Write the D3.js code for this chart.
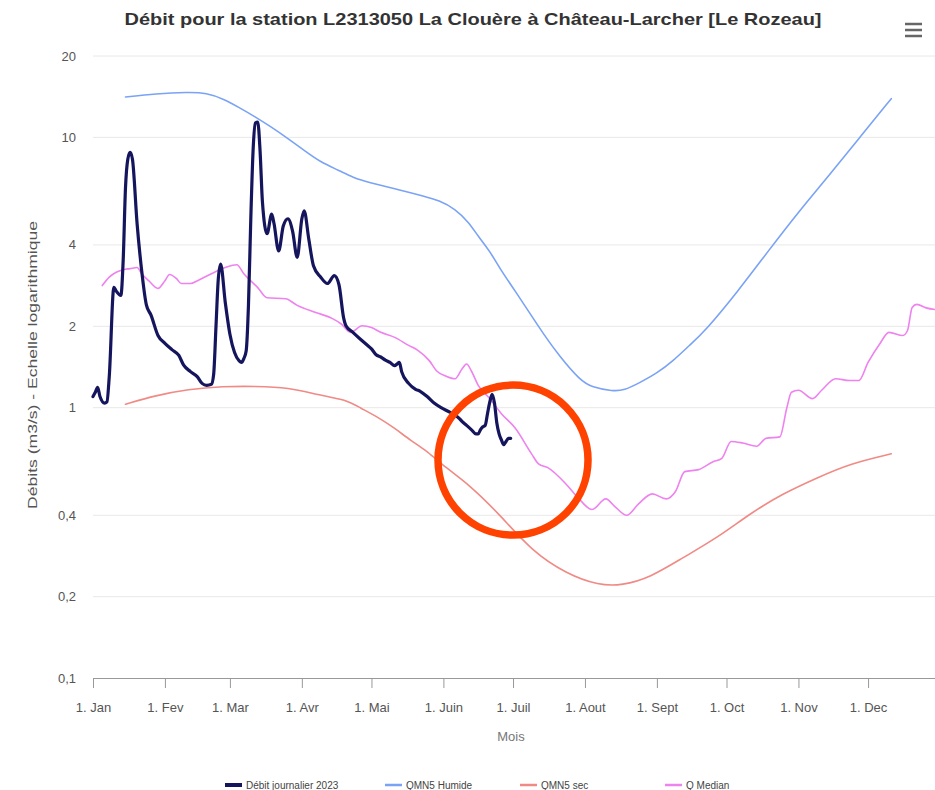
<!DOCTYPE html>
<html><head><meta charset="utf-8">
<script src="https://cdn.jsdelivr.net/npm/d3@7"></script>
<style>body{margin:0;background:#fff;} svg{display:block;font-family:"Liberation Sans",Arial,sans-serif;}</style>
</head><body><svg id="c" width="935" height="790"></svg>
<script>
const titleText = "Débit pour la station L2313050 La Clouère à Château-Larcher [Le Rozeau]";
const yAxisTitle = "Débits (m3/s) - Echelle logarithmique";
const xAxisTitle = "Mois";
const monthLabels = ["1. Jan","1. Fev","1. Mar","1. Avr","1. Mai","1. Juin","1. Juil","1. Aout","1. Sept","1. Oct","1. Nov","1. Dec"];
const yTickValues = [0.1, 0.2, 0.4, 1, 2, 4, 10, 20];
const yTickLabels = ["0,1","0,2","0,4","1","2","4","10","20"];
const seriesNames = ["Débit journalier 2023","QMN5 Humide","QMN5 sec","Q Median"];

const debitDates = ["01-01","01-02","01-03","01-04","01-06","01-07","01-08","01-10","01-11","01-13","01-14","01-15","01-16","01-17","01-18","01-20","01-22","01-24","01-26","01-29",
"02-01","02-04","02-07","02-09","02-12","02-15","02-17","02-19","02-21","02-22","02-23","02-24","02-25","02-27",
"03-01","03-03","03-05","03-06","03-07","03-08","03-09","03-10","03-11","03-12","03-13","03-14","03-15","03-17","03-19","03-20","03-22","03-24","03-26","03-28","03-30",
"04-01","04-02","04-04","04-06","04-09","04-12","04-15","04-17","04-19","04-20","04-23","04-26","04-29",
"05-01","05-03","05-05","05-07","05-09","05-11","05-12","05-13","05-14","05-17","05-20","05-22","05-25","05-28","05-31",
"06-03","06-06","06-08","06-09","06-11","06-13","06-15","06-16","06-17","06-18","06-19","06-20","06-21","06-22","06-23","06-24","06-25","06-26","06-27","06-28","06-29","06-30"];
const debitValues = [1.10,1.14,1.19,1.10,1.04,1.05,1.30,2.79,2.70,2.60,3.50,6.50,8.30,8.80,8.30,4.80,3.20,2.40,2.20,1.85,
1.73,1.64,1.56,1.44,1.36,1.30,1.23,1.21,1.22,1.33,2.00,3.00,3.40,2.45,
1.87,1.60,1.49,1.47,1.52,1.62,2.40,5.00,9.00,11.3,11.4,8.90,5.80,4.40,5.20,4.80,3.80,4.70,5.00,4.50,3.60,
5.00,5.35,4.20,3.35,3.05,2.88,3.08,2.85,2.15,2.01,1.90,1.80,1.71,
1.65,1.57,1.54,1.50,1.47,1.43,1.45,1.47,1.36,1.23,1.17,1.15,1.10,1.04,1.00,
0.97,0.94,0.91,0.89,0.86,0.83,0.80,0.80,0.83,0.85,0.86,0.95,1.05,1.12,1.04,0.88,0.80,0.76,0.73,0.75,0.77,0.77];

const humideDates = ["01-15","01-28","02-11","02-19","02-26","03-05","03-12","03-19","03-26","04-02","04-09","04-17","04-23","04-30","05-13","05-24","05-30","06-06","06-12","06-16","06-21","06-26","07-02","07-08","07-14","07-21","07-30","08-04","08-13","08-18","08-24","09-01","09-08","09-15","09-22","10-06","10-19","11-01","11-14","11-27","12-11"];
const humideValues = [14.1,14.5,14.7,14.6,13.9,12.9,11.9,10.9,9.9,8.95,8.1,7.55,7.1,6.8,6.4,6.05,5.85,5.45,4.85,4.3,3.8,3.2,2.7,2.25,1.88,1.55,1.26,1.19,1.15,1.16,1.23,1.34,1.49,1.7,1.93,2.7,3.8,5.3,7.2,9.9,13.9];

const secDates = ["01-15","01-28","02-11","02-26","03-12","03-26","04-09","04-20","04-26","05-04","05-11","05-18","05-25","06-02","06-12","06-25","07-09","07-24","08-07","08-17","08-29","09-12","09-27","10-11","10-25","11-09","11-23","12-11"];
const secValues = [1.03,1.11,1.17,1.20,1.20,1.19,1.11,1.07,1.0,0.92,0.84,0.755,0.69,0.60,0.52,0.405,0.295,0.243,0.22,0.22,0.235,0.278,0.33,0.405,0.48,0.55,0.62,0.675];

const medianDates = ["01-05","01-08","01-11","01-14","01-17","01-20","01-22","01-25","01-29","02-01","02-03","02-06","02-08","02-12","02-15","02-21","02-27","03-04","03-07","03-13","03-17","03-25","03-30","04-07","04-14","04-18","04-22","04-27","05-01","05-05","05-11","05-17","05-21","05-26","05-29","06-02","06-06","06-09","06-11","06-13","06-16","06-21","06-26","07-02","07-09","07-12","07-16","07-24","07-29","08-04","08-10","08-14","08-19","08-24","08-30","09-05","09-09","09-13","09-19","09-25","09-29","10-03","10-08","10-14","10-18","10-24","10-27","10-29","11-01","11-07","11-11","11-17","11-23","11-27","12-01","12-06","12-10","12-16","12-18","12-20","12-22","12-26","12-31"];
const medianValues = [2.83,3.04,3.17,3.24,3.27,3.30,3.13,2.95,2.76,2.95,3.11,3.0,2.88,2.88,2.95,3.13,3.30,3.38,3.13,2.78,2.55,2.53,2.39,2.25,2.14,2.04,1.90,2.01,1.98,1.90,1.82,1.70,1.63,1.49,1.37,1.31,1.28,1.39,1.45,1.37,1.21,1.08,0.95,0.84,0.675,0.62,0.60,0.52,0.465,0.42,0.46,0.43,0.40,0.44,0.48,0.46,0.49,0.58,0.59,0.63,0.65,0.75,0.74,0.72,0.77,0.78,1.0,1.14,1.16,1.08,1.16,1.28,1.26,1.26,1.47,1.72,1.90,1.85,1.93,2.35,2.41,2.34,2.30];

const annotationDate = "07-01";
const annotationValue = 0.64;

const parse = d3.timeParse("%Y-%m-%d");
const toDate = s => parse("2023-" + s);
const svg = d3.select("#c");
const W = 935;

const x = d3.scaleTime().domain([parse("2023-01-01"), parse("2024-01-01")]).range([93, 940]);
const y = d3.scaleLog().domain([0.1, 20]).range([678, 56]);

// gridlines
svg.append("g").selectAll("line").data(yTickValues.filter(v => v > 0.1)).join("line")
  .attr("x1", 93).attr("x2", W).attr("y1", d => y(d)).attr("y2", d => y(d))
  .attr("stroke", "#e8e8e8").attr("stroke-width", 1);

// y labels
svg.append("g").selectAll("text").data(yTickValues).join("text")
  .attr("x", 76).attr("y", d => y(d)).attr("dy", "0.35em").attr("text-anchor", "end")
  .attr("font-size", 13).attr("fill", "#555").text((d, i) => yTickLabels[i]);

// x axis
const months = d3.timeMonth.range(parse("2023-01-01"), parse("2024-01-01"));
const xAxis = svg.append("g").attr("transform", "translate(0,678)")
  .call(d3.axisBottom(x).tickValues(months).tickFormat((d, i) => monthLabels[i]).tickSize(10).tickPadding(15));
xAxis.select(".domain").attr("stroke", "#999");
xAxis.selectAll(".tick line").attr("stroke", "#999");
xAxis.selectAll(".tick text").attr("font-size", 13).attr("fill", "#555").attr("font-family", "Liberation Sans, Arial, sans-serif");

// axis titles
svg.append("text").attr("x", 511).attr("y", 741).attr("text-anchor", "middle")
  .attr("font-size", 13).attr("fill", "#777").text(xAxisTitle);
svg.append("text").attr("transform", "translate(37,365) rotate(-90)").attr("text-anchor", "middle")
  .attr("font-size", 13).attr("fill", "#555").attr("textLength", 288).attr("lengthAdjust", "spacingAndGlyphs").text(yAxisTitle);

// title
svg.append("text").attr("x", 473).attr("y", 25).attr("text-anchor", "middle")
  .attr("font-size", 17).attr("font-weight", "bold").attr("fill", "#333")
  .attr("textLength", 697).attr("lengthAdjust", "spacingAndGlyphs").text(titleText);

// menu icon
svg.append("g").selectAll("line").data([0, 1, 2]).join("line")
  .attr("x1", 905).attr("x2", 922).attr("y1", d => 24 + d * 6).attr("y2", d => 24 + d * 6)
  .attr("stroke", "#666").attr("stroke-width", 2.5);

const lineMono = d3.line().x(d => x(d[0])).y(d => y(d[1])).curve(d3.curveMonotoneX);
const lineSmooth = d3.line().x(d => x(d[0])).y(d => y(d[1])).curve(d3.curveBasis);
const mk = (ds, vs) => ds.map((d, i) => [toDate(d), vs[i]]);

const series = [
  {data: mk(humideDates, humideValues), color: "#7aa3f5", w: 1.6, gen: lineSmooth},
  {data: mk(secDates, secValues), color: "#f08a85", w: 1.6, gen: lineSmooth},
  {data: mk(medianDates, medianValues), color: "#ee82ee", w: 1.6, gen: lineMono},
  {data: mk(debitDates, debitValues), color: "#15155e", w: 3.2, gen: lineMono}
];
svg.append("g").selectAll("path").data(series).join("path")
  .attr("d", d => d.gen(d.data)).attr("fill", "none")
  .attr("stroke", d => d.color).attr("stroke-width", d => d.w)
  .attr("stroke-linejoin", "round").attr("stroke-linecap", "round");

// annotation circle
svg.append("circle").attr("cx", x(toDate(annotationDate))).attr("cy", y(annotationValue)).attr("r", 75)
  .attr("fill", "none").attr("stroke", "#ff4200").attr("stroke-width", 7.5);

// legend
const legendColors = ["#15155e", "#7aa3f5", "#f08a85", "#ee82ee"];
const legendWidths = [4, 2.5, 2.5, 2.5];
const legendX = [225, 385, 520, 665];
const lg = svg.append("g").selectAll("g").data(seriesNames).join("g")
  .attr("transform", (d, i) => `translate(${legendX[i]},785)`);
lg.append("line").attr("x1", 0).attr("x2", 17).attr("y1", 0).attr("y2", 0)
  .attr("stroke", (d, i) => legendColors[i]).attr("stroke-width", (d, i) => legendWidths[i]);
lg.append("text").attr("x", 21).attr("y", 0).attr("dy", "0.35em").attr("font-size", 10)
  .attr("fill", "#444").text(d => d);
</script></body></html>
